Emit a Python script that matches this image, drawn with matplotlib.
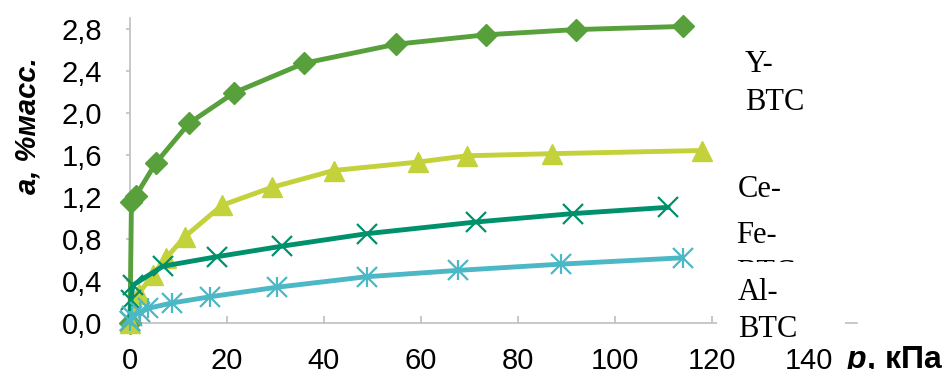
import matplotlib.pyplot as plt
from matplotlib.patches import Rectangle

# isotherm data, p in kPa, a in % mass
y_btc_p = [0, 0.3, 1.2, 5.3, 12.2, 21.5, 35.9, 54.8, 73.4, 92.0, 114.2]
y_btc_a = [0, 1.15, 1.21, 1.52, 1.90, 2.19, 2.47, 2.65, 2.74, 2.79, 2.82]

ce_btc_p = [0, 1.8, 4.8, 7.5, 11.3, 19.0, 29.3, 42.0, 59.4, 69.5, 87.0, 118.0]
ce_btc_a = [0, 0.28, 0.46, 0.62, 0.82, 1.12, 1.29, 1.45, 1.53, 1.59, 1.61, 1.64]

fe_btc_p = [0, 0.2, 0.6, 6.8, 17.9, 31.3, 49.0, 71.3, 91.3, 111.0]
fe_btc_a = [0.02, 0.22, 0.36, 0.54, 0.63, 0.73, 0.85, 0.96, 1.04, 1.10]

al_btc_p = [0, 0.5, 2.0, 3.8, 8.6, 16.6, 30.3, 48.8, 67.6, 89.0, 114.0]
al_btc_a = [0.02, 0.07, 0.10, 0.14, 0.19, 0.25, 0.34, 0.44, 0.50, 0.56, 0.62]

x_ticks = [0, 20, 40, 60, 80, 100, 120, 140]
y_ticks = [0.0, 0.4, 0.8, 1.2, 1.6, 2.0, 2.4, 2.8]
y_tick_labels = ["0,0", "0,4", "0,8", "1,2", "1,6", "2,0", "2,4", "2,8"]

names = ["Y-", "Ce-", "Fe-", "Al-"]

c_y = "#58A03C"
c_ce = "#C3D13A"
c_fe = "#00916C"
c_al = "#4CB7C5"
grey = "#BFBFBF"

plt.rcParams["mathtext.fontset"] = "custom"
plt.rcParams["mathtext.it"] = "Liberation Sans:bold:italic"

W, H = 946, 378
fig = plt.figure(figsize=(W / 100, H / 100), dpi=100)
ax = fig.add_axes([130 / W, 55 / H, 727 / W, 305 / H])

lw = 3.5
ax.plot(y_btc_p, y_btc_a, color=c_y, lw=lw, marker="D", ms=11,
        clip_on=False, zorder=3)
ax.plot(ce_btc_p, ce_btc_a, color=c_ce, lw=lw, marker="^", ms=14,
        clip_on=False, zorder=4)
ax.plot(fe_btc_p, fe_btc_a, color=c_fe, lw=lw, marker="x", ms=14, mew=1.6,
        clip_on=False, zorder=5)
ax.plot(al_btc_p, al_btc_a, color=c_al, lw=lw, marker="x", ms=14, mew=1.6,
        clip_on=False, zorder=6)
# asterisk = cross + vertical bar
ax.plot(al_btc_p, al_btc_a, ls="none", color=c_al, marker="|", ms=14, mew=1.6,
        clip_on=False, zorder=6)

ax.set_xlim(0, 150)
ax.set_ylim(0, 2.9)
ax.set_xticks(x_ticks)
ax.set_xticklabels([str(v) for v in x_ticks])
ax.set_yticks(y_ticks)
ax.set_yticklabels(y_tick_labels)

for s in ["top", "right"]:
    ax.spines[s].set_visible(False)
for s in ["left", "bottom"]:
    ax.spines[s].set_color(grey)
    ax.spines[s].set_linewidth(1.2)

ax.tick_params(axis="x", direction="in", length=5, width=1.2, color=grey,
               pad=17, labelsize=21)
ax.tick_params(axis="y", direction="out", length=3, width=1.2, color=grey,
               pad=17, labelsize=21)
for lab in ax.get_xticklabels() + ax.get_yticklabels():
    lab.set_fontfamily("Liberation Sans")

fig.text(28 / W, 1 - 126 / H, "a, %масс.", rotation=90, ha="center",
         va="center", fontsize=21, fontweight="bold", fontstyle="italic",
         family="Liberation Sans")
fig.text(943 / W, 1 - 368 / H, r"$\mathit{p}$, кПа", ha="right",
         va="baseline", fontsize=23, fontweight="bold",
         family="Liberation Sans")

# legend: stacked two-line labels on white boxes that overlap each other
boxes = [(40, 120), (165, 213), (213, 262), (262, 345)]
baselines = [(72, 110), (197, 235), (243, 281), (300, 337)]
lefts = [745, 738, 736, 738]
for i, name in enumerate(names):
    top, bottom = boxes[i]
    fig.add_artist(Rectangle((717 / W, 1 - bottom / H), 128 / W,
                             (bottom - top) / H, transform=fig.transFigure,
                             facecolor="white", edgecolor="none",
                             zorder=10 + 2 * i))
    for txt, base in zip([name, "BTC"], baselines[i]):
        fig.text(lefts[i] / W, 1 - base / H, txt, ha="left", va="baseline",
                 fontsize=22, family="Liberation Serif", zorder=11 + 2 * i)

# the lower right corner of the labels row is cut off
fig.add_artist(Rectangle((690 / W, 0), 256 / W, 9 / H,
                         transform=fig.transFigure, facecolor="white",
                         edgecolor="none", zorder=20))

fig.savefig("out.png", dpi=100)
